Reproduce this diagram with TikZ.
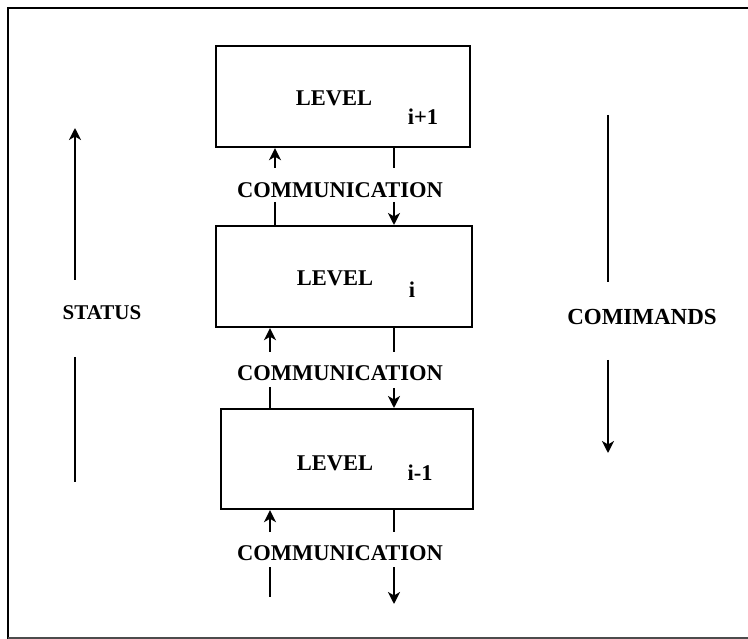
\documentclass[tikz,border=0pt]{standalone}
\usepackage{fontspec}
\setmainfont{Liberation Serif}
\usetikzlibrary{arrows.meta}
\begin{document}
\begin{tikzpicture}[x=1pt,y=-1pt,
  levelbox/.style={draw,line width=2.2pt,inner sep=0pt,anchor=north west},
  lbl/.style={font=\fontsize{22.5}{22.5}\selectfont\bfseries,inner sep=0pt},
  con/.style={line width=2.2pt},
  arr/.style={line width=2.2pt,-{Stealth[length=12pt,width=12pt,inset=3.5pt]}},
  frame/.style={line width=2.6pt}]
\useasboundingbox (0,0) rectangle (748,639);
% frame (left, top, bottom)
\draw[frame] (8,639) -- (8,8) -- (748,8);
\draw[line width=2pt,black!70] (8,637.5) -- (748,637.5);
% boxes
\node[levelbox,minimum width=254pt,minimum height=101pt] (b1) at (215,45) {};
\node[levelbox,minimum width=256pt,minimum height=101pt] (b2) at (215,225) {};
\node[levelbox,minimum width=252pt,minimum height=100pt] (b3) at (220,408) {};
% box texts
\node[lbl] (l1) at (334,98) {LEVEL};
\node[lbl] (s1) at (423,117) {i+1};
\node[lbl] (l2) at (335,278) {LEVEL};
\node[lbl] (s2) at (412,290) {i};
\node[lbl] (l3) at (335,463) {LEVEL};
\node[lbl] (s3) at (420,473) {i-1};
% communication labels
\node[lbl] (c1) at (340,190) {COMMUNICATION};
\node[lbl] (c2) at (340,373) {COMMUNICATION};
\node[lbl] (c3) at (340,553) {COMMUNICATION};
% connector end points
\coordinate (u1) at (275,168);
\coordinate (u1b) at (275,202);
\coordinate (d1) at (394,168);
\coordinate (d1b) at (394,202);
\coordinate (u2) at (270,352);
\coordinate (u2b) at (270,387);
\coordinate (d2) at (394,352);
\coordinate (d2b) at (394,388);
\coordinate (u3) at (270,532);
\coordinate (u3b) at (270,567);
\coordinate (u3c) at (270,597);
\coordinate (d3) at (394,532);
\coordinate (d3b) at (394,567);
\coordinate (d3c) at (394,604);
% between level i+1 and i
\draw[arr] (u1) -- (u1 |- b1.south);
\draw[con] (u1b) -- (u1b |- b2.north);
\draw[con] (d1 |- b1.south) -- (d1);
\draw[arr] (d1b) -- (d1b |- b2.north);
% between level i and i-1
\draw[arr] (u2) -- (u2 |- b2.south);
\draw[con] (u2b) -- (u2b |- b3.north);
\draw[con] (d2 |- b2.south) -- (d2);
\draw[arr] (d2b) -- (d2b |- b3.north);
% below level i-1
\draw[arr] (u3) -- (u3 |- b3.south);
\draw[con] (u3b) -- (u3c);
\draw[con] (d3 |- b3.south) -- (d3);
\draw[arr] (d3b) -- (d3c);
% status
\node[lbl,font=\fontsize{21}{21}\selectfont\bfseries] (st) at (102,313) {STATUS};
\coordinate (st1) at (75,280);
\coordinate (st2) at (75,128);
\coordinate (st3) at (75,357);
\coordinate (st4) at (75,482);
\draw[arr] (st1) -- (st2);
\draw[con] (st3) -- (st4);
% commands
\node[lbl,font=\fontsize{23}{23}\selectfont\bfseries] (cm) at (642,317) {COMIMANDS};
\coordinate (cm1) at (608,115);
\coordinate (cm2) at (608,282);
\coordinate (cm3) at (608,360);
\coordinate (cm4) at (608,453);
\draw[con] (cm1) -- (cm2);
\draw[arr] (cm3) -- (cm4);
\end{tikzpicture}
\end{document}
